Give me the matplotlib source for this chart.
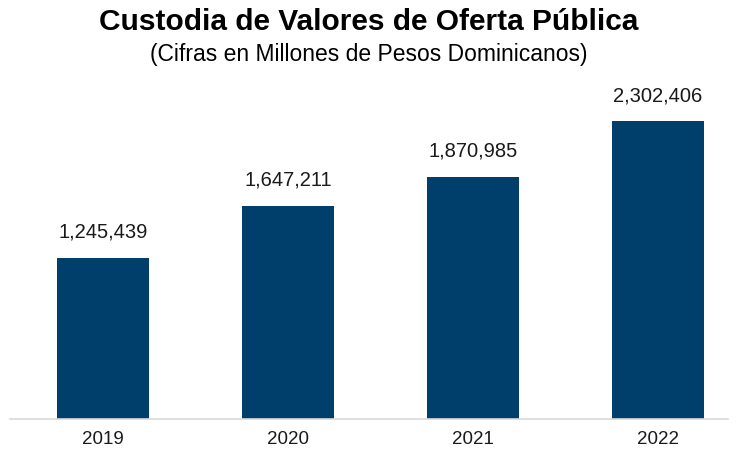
import matplotlib
matplotlib.use('Agg')
import matplotlib.pyplot as plt

plt.rcParams['font.family'] = ['Liberation Sans', 'DejaVu Sans']

years = ['2019', '2020', '2021', '2022']
custodia = [1245439, 1647211, 1870985, 2302406]

BAR_COLOR = '#003F6B'
W, H = 738, 450


def main():
    fig = plt.figure(figsize=(W / 100, H / 100), dpi=100)
    # axes placed in pixel terms: baseline at y=419, spans x=10..728
    ax = fig.add_axes([10 / W, 1 - 419 / H, 718 / W, 339 / H])

    ymax = 2302406 * 339 / 298
    px = ymax / 339

    x = list(range(len(years)))
    ax.bar(x, custodia, width=0.5, color=BAR_COLOR)

    for xi, v in zip(x, custodia):
        ax.text(xi, v + 20 * px, f'{v:,}', ha='center', va='baseline',
                fontsize=14.5, color='#1a1a1a')

    ax.set_xlim(-0.503, 3.378)
    ax.set_ylim(0, ymax)
    ax.set_xticks(x)
    ax.set_xticklabels(years, fontsize=13.5, color='#1a1a1a')
    ax.tick_params(axis='x', length=0, pad=9)
    ax.set_yticks([])
    for s in ['top', 'right', 'left']:
        ax.spines[s].set_visible(False)
    ax.spines['bottom'].set_color('#D9D9D9')
    ax.spines['bottom'].set_linewidth(1.2)

    fig.text(0.5, 1 - 22 / H, 'Custodia de Valores de Oferta Pública',
             ha='center', va='center', fontsize=21.5, fontweight='bold')
    fig.text(0.5, 1 - 55 / H, '(Cifras en Millones de Pesos Dominicanos)',
             ha='center', va='center', fontsize=16.5)

    fig.savefig('out.png', dpi=100)
    plt.close(fig)


if __name__ == '__main__':
    main()
